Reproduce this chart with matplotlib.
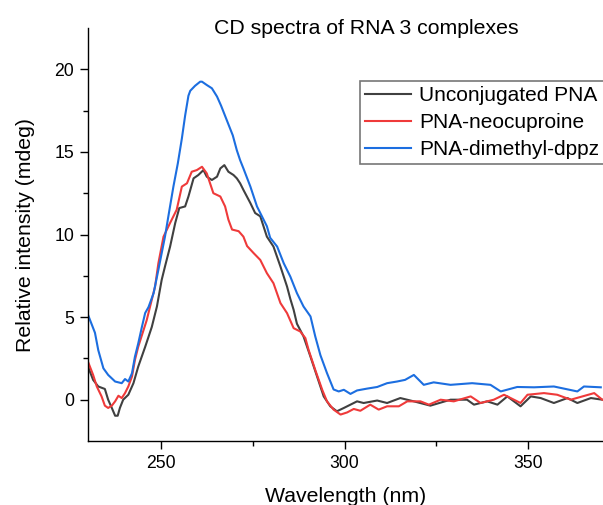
import matplotlib
matplotlib.use("Agg")
import matplotlib.pyplot as plt
import numpy as np

plt.rcParams['font.family'] = ['Liberation Sans', 'DejaVu Sans']

# Unconjugated PNA
wl_unconj = [230.0, 231.4, 232.8, 234.6, 235.5, 236.5, 237.4, 238.1, 238.7, 239.6, 241.0, 242.4,
             243.7, 245.6, 247.4, 248.8, 250.1, 251.0, 252.4, 253.8, 254.9, 256.5, 257.4, 258.8,
             260.1, 261.5, 262.4, 263.8, 265.2, 266.1, 267.2, 268.3, 269.7, 270.6, 271.5, 272.4,
             274.3, 275.6, 277.0, 278.8, 280.6, 282.5, 284.3, 285.2, 286.1, 287.0, 288.8, 290.7,
             292.5, 294.3, 296.1, 297.9, 299.8, 301.6, 303.4, 305.2, 308.9, 311.6, 315.2, 318.9,
             323.4, 328.9, 333.4, 335.3, 338.9, 341.7, 344.4, 348.0, 350.8, 353.5, 357.1, 360.8,
             363.5, 367.2, 370.3]
cd_unconj = [2.0, 1.2, 0.8, 0.65, 0.0, -0.5, -0.97, -0.97, -0.5, 0.0, 0.3, 1.0,
             2.0, 3.2, 4.4, 5.64, 7.25, 8.06, 9.27, 10.7, 11.6, 11.7, 12.3, 13.4,
             13.6, 13.9, 13.5, 13.3, 13.5, 14.0, 14.2, 13.8, 13.6, 13.4, 13.1, 12.7,
             11.9, 11.3, 11.1, 9.87, 9.27, 8.06, 6.85, 6.1, 5.44, 4.6, 3.83, 2.6,
             1.4, 0.2, -0.4, -0.7, -0.5, -0.3, -0.1, -0.2, -0.05, -0.2, 0.1, -0.1,
             -0.36, 0.0, 0.0, -0.3, -0.1, -0.3, 0.2, -0.4, 0.2, 0.1, -0.2, 0.1,
             -0.2, 0.1, 0.0]

# PNA-neocuproine
wl_neo = [230.0, 231.4, 232.4, 233.7, 234.6, 235.5, 236.5, 237.4, 238.3, 239.2, 240.1, 241.0,
          242.0, 242.8, 243.7, 244.7, 246.0, 247.4, 248.3, 249.2, 250.6, 252.4, 254.2, 255.6,
          257.0, 258.3, 259.7, 261.1, 262.4, 263.3, 264.2, 266.1, 267.4, 268.3, 269.3, 271.1,
          272.4, 273.4, 275.2, 277.0, 278.8, 280.6, 282.5, 284.3, 286.1, 287.9, 289.3, 290.2,
          292.0, 293.9, 295.2, 297.0, 298.9, 300.7, 302.5, 304.3, 307.0, 309.3, 311.6, 314.8,
          317.1, 320.7, 323.0, 326.2, 329.8, 334.4, 337.1, 340.7, 343.5, 348.0, 349.9, 354.4,
          358.0, 361.7, 368.1, 370.3]
cd_neo = [2.3, 1.5, 0.8, 0.2, -0.36, -0.5, -0.36, -0.1, 0.24, 0.1, 0.4, 0.8,
          1.4, 2.4, 3.2, 3.9, 4.8, 6.05, 6.85, 8.26, 9.87, 10.7, 11.5, 12.9,
          13.1, 13.8, 13.9, 14.1, 13.7, 13.1, 12.5, 12.3, 11.7, 10.9, 10.3, 10.2,
          9.87, 9.3, 8.87, 8.46, 7.66, 7.05, 5.85, 5.24, 4.33, 4.13, 3.73, 3.0,
          1.8, 0.6, -0.1, -0.6, -0.9, -0.77, -0.56, -0.67, -0.3, -0.6, -0.4, -0.4,
          -0.1, -0.1, -0.3, 0.0, -0.1, 0.2, -0.2, 0.0, 0.3, -0.2, 0.3, 0.4,
          0.3, 0.0, 0.4, 0.0]

# PNA-dimethyl-dppz
wl_dppz = [230.0, 231.9, 232.8, 234.2, 235.5, 237.4, 239.2, 240.1, 241.0, 242.0, 242.8, 243.7,
           244.7, 245.6, 246.5, 247.9, 249.2, 251.0, 252.0, 253.3, 254.5, 255.6, 256.5, 257.4,
           257.9, 259.2, 260.6, 261.1, 262.4, 263.8, 265.2, 266.3, 267.9, 269.5, 270.6, 271.5,
           272.4, 274.3, 275.2, 276.1, 277.9, 278.8, 279.7, 281.6, 283.4, 285.2, 287.0, 288.8,
           290.7, 292.0, 293.4, 295.2, 297.0, 298.4, 299.8, 301.6, 303.4, 306.1, 308.9, 311.6,
           314.3, 316.5, 318.9, 321.6, 324.3, 328.9, 334.8, 339.8, 342.6, 347.1, 351.7, 357.1,
           363.5, 365.3, 369.9]
cd_dppz = [5.14, 4.05, 3.0, 1.9, 1.5, 1.1, 1.0, 1.25, 1.1, 1.6, 2.6, 3.4,
           4.4, 5.25, 5.6, 6.45, 7.86, 9.87, 11.2, 12.9, 14.3, 15.8, 17.2, 18.4,
           18.7, 19.0, 19.25, 19.25, 19.05, 18.85, 18.35, 17.8, 16.9, 16.0, 15.1, 14.5,
           14.0, 12.9, 12.3, 11.7, 10.9, 10.5, 9.8, 9.27, 8.26, 7.45, 6.45, 5.64,
           5.04, 3.83, 2.7, 1.61, 0.62, 0.5, 0.6, 0.35, 0.56, 0.67, 0.77, 1.0,
           1.1, 1.2, 1.5, 0.9, 1.05, 0.9, 1.0, 0.9, 0.5, 0.77, 0.75, 0.8,
           0.5, 0.8, 0.75]

labels = ["Unconjugated PNA", "PNA-neocuproine", "PNA-dimethyl-dppz"]
colors = ["#404040", "#ef3a3a", "#1c6ee0"]

x_ticks = [250, 300, 350]
y_ticks = [0, 5, 10, 15, 20]

fig = plt.figure(figsize=(6.03, 5.05), dpi=100)
ax = fig.add_axes([88 / 603, 64 / 505, 1 - 88 / 603, 413 / 505])

ax.plot(wl_unconj, cd_unconj, color=colors[0], lw=1.5, label=labels[0])
ax.plot(wl_neo, cd_neo, color=colors[1], lw=1.5, label=labels[1])
ax.plot(wl_dppz, cd_dppz, color=colors[2], lw=1.5, label=labels[2])

ax.set_xlim(230, 370.5)
ax.set_ylim(-2.5, 22.5)
ax.set_xticks(x_ticks)
ax.set_yticks(y_ticks)
ax.set_xticks([275, 325], minor=True)
ax.set_yticks([2.5, 7.5, 12.5, 17.5], minor=True)

for s in ["top", "right"]:
    ax.spines[s].set_visible(False)
for s in ["left", "bottom"]:
    ax.spines[s].set_linewidth(1.0)

ax.tick_params(axis="both", which="major", direction="out", length=6, width=1.0,
               labelsize=12.7, pad=4)
ax.tick_params(axis="both", which="minor", direction="out", length=3.5, width=1.0)

ax.set_xlabel("Wavelength (nm)", fontsize=15.3, labelpad=11)
ax.set_ylabel("Relative intensity (mdeg)", fontsize=15.3, labelpad=14)

fig.text(366 / 603, 1 - 28 / 505, "CD spectra of RNA 3 complexes", fontsize=15.3,
         ha="center", va="center")

leg = ax.legend(loc="upper left", bbox_to_anchor=(360 / 603, 1 - 81 / 505),
                bbox_transform=fig.transFigure, fontsize=15, frameon=True,
                fancybox=False, borderpad=0.25, handlelength=2.2,
                handletextpad=0.4, labelspacing=0.38, borderaxespad=0)
leg.get_frame().set_edgecolor("#555555")
leg.get_frame().set_linewidth(1.2)

fig.savefig("out.png", dpi=100)
